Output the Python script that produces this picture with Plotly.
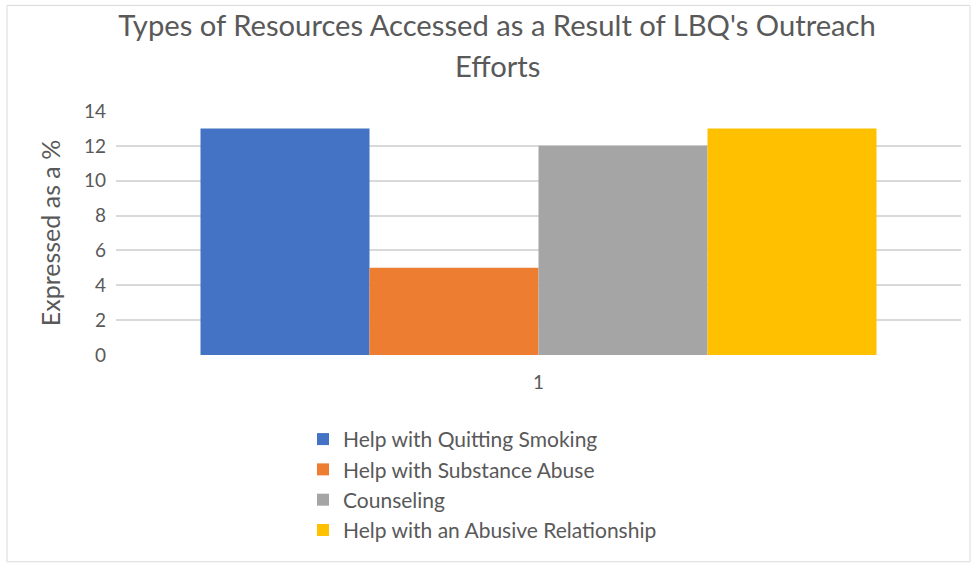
import plotly.graph_objects as go

categories = ["1"]
series_names = [
    "Help with Quitting Smoking",
    "Help with Substance Abuse",
    "Counseling",
    "Help with an Abusive Relationship",
]
series_values = [[13], [5], [12], [13]]
series_colors = ["#4472C4", "#ED7D31", "#A5A5A5", "#FFC000"]
y_ticks = [0, 2, 4, 6, 8, 10, 12, 14]
title_lines = ["Types of Resources Accessed as a Result of LBQ's Outreach", "Efforts"]

FONT = "Lato"
GREY = "#595959"

fig = go.Figure()
for name, vals, col in zip(series_names, series_values, series_colors):
    fig.add_trace(go.Bar(x=categories, y=vals, name=name, marker=dict(color=col, line=dict(width=0))))

L, R, T, B = 116, 14, 110.7, 210
W, H = 975, 565
pw = W - L - R
ph = H - T - B

def px2x(px):
    return (px - L) / pw

def py2y(py):
    return (H - B - py) / ph

fig.update_layout(
    width=W, height=H,
    margin=dict(l=L, r=R, t=T, b=B, autoexpand=False),
    paper_bgcolor="white", plot_bgcolor="white",
    font=dict(family=FONT, color=GREY),
    barmode="group", bargap=0.2, bargroupgap=0,
    title=dict(
        text=title_lines[0],
        x=497 / W, xanchor="center", y=1 - 26 / H, yanchor="middle",
        font=dict(size=29.2, color=GREY, family=FONT),
    ),
    annotations=[dict(text=title_lines[1], xref="paper", yref="paper",
                      x=px2x(497), y=py2y(65), xanchor="center", yanchor="middle",
                      showarrow=False, font=dict(size=29.2, color=GREY, family=FONT))],
    xaxis=dict(type="category", range=[-0.5, 0.5], showgrid=False, showline=False,
               ticks="", tickfont=dict(size=19, color=GREY), ticklabelstandoff=14),
    yaxis=dict(range=[0, 14], tickvals=y_ticks, showgrid=True, gridcolor="#D9D9D9",
               gridwidth=1.5, zeroline=False, showline=False, ticks="",
               tickfont=dict(size=19, color=GREY), ticklabelstandoff=9,
               title=dict(text="Expressed as a %", font=dict(size=25, color=GREY), standoff=16)),
    legend=dict(orientation="v", x=px2x(303), xanchor="left", y=py2y(419), yanchor="top",
                font=dict(size=21, color=GREY), itemwidth=30, tracegroupgap=0,
                traceorder="normal", bgcolor="rgba(0,0,0,0)"),
    showlegend=True,
    shapes=[dict(type="rect", xref="paper", yref="paper",
                 x0=px2x(7), x1=px2x(970), y0=py2y(562), y1=py2y(5),
                 line=dict(color="#D9D9D9", width=1), layer="below")],
)

fig.write_html("out.html", config={"displayModeBar": False},
               post_script="document.body.style.margin='0';")
